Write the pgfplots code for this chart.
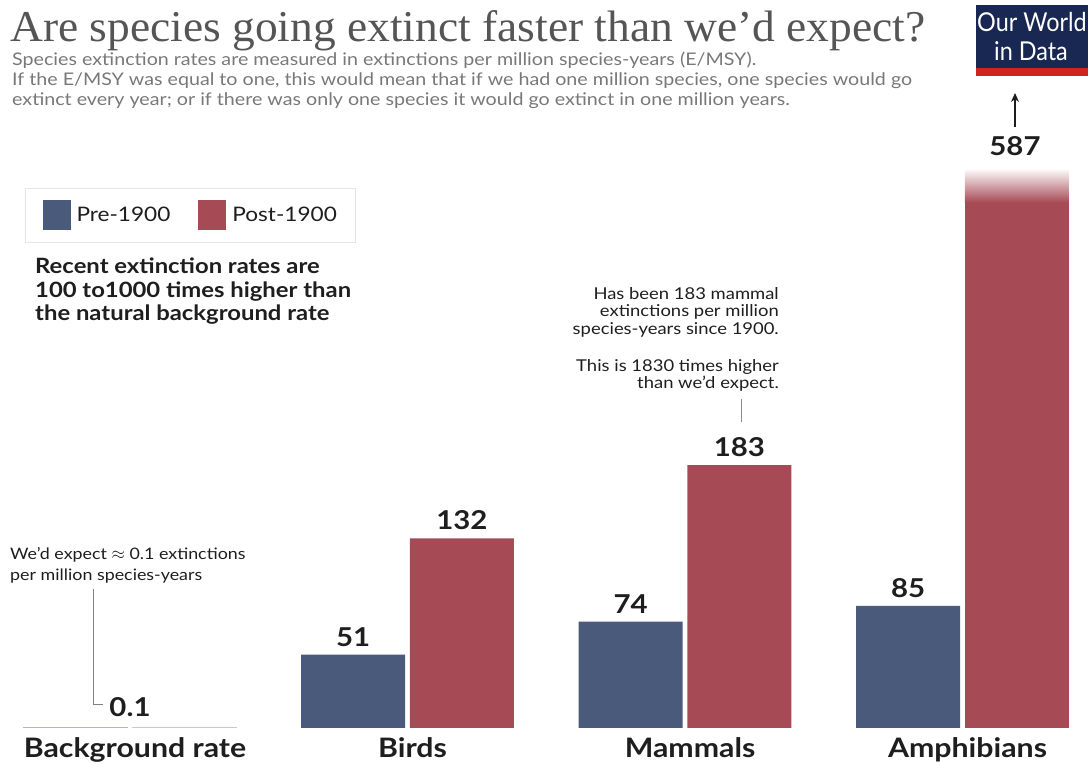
\documentclass[border=0pt]{standalone}
\usepackage{pgfplots}
\pgfplotsset{compat=1.18}
\usepackage{fontspec}
\usepackage{graphicx}
\usetikzlibrary{arrows.meta}
\setmainfont{Lato}[FakeStretch=1.13]
\newfontfamily\logofont{Lato}[FakeStretch=0.9]
\newfontfamily\titlefont{Liberation Serif}
\definecolor{pre}{RGB}{74,90,122}
\definecolor{post}{RGB}{166,74,86}
\definecolor{owidblue}{RGB}{24,40,82}
\definecolor{owidred}{RGB}{206,38,30}
\definecolor{subgray}{RGB}{120,120,120}
\definecolor{titlegray}{RGB}{85,85,85}
\definecolor{txt}{RGB}{30,30,30}
\begin{document}
\begin{tikzpicture}[x=1bp,y=1bp]
\draw[white, line width=0pt] (0,0) rectangle (1088,763);
% title
\node[anchor=base west, inner sep=0, text=titlegray] at (10,721) {\resizebox{915bp}{31bp}{\titlefont Are species going extinct faster than we’d expect?}};
\begin{scope}[every node/.style={anchor=base west, inner sep=0, text=subgray, font=\fontsize{17.4bp}{18bp}\selectfont}]
\node at (12,697) {Species extinction rates are measured in extinctions per million species-years (E/MSY).};
\node at (12,677) {If the E/MSY was equal to one, this would mean that if we had one million species, one species would go};
\node at (12,657) {extinct every year; or if there was only one species it would go extinct in one million years.};
\end{scope}
% logo
\fill[owidblue] (976,695) rectangle (1088,758);
\fill[owidred] (976,687) rectangle (1088,695);
\node[anchor=base west, inner sep=0, text=white, font=\logofont\fontsize{26bp}{26bp}\selectfont] at (977,731) {Our World};
\node[anchor=base, inner sep=0, text=white, font=\logofont\fontsize{26bp}{26bp}\selectfont] at (1031,702) {in Data};
% arrow + 587
\draw[-{Stealth[length=9bp,width=8bp]}, line width=1.4bp, txt] (1015,636) -- (1015,670);
\node[anchor=base, inner sep=0, text=txt, font=\bfseries\fontsize{26bp}{26bp}\selectfont] at (1015,607) {587};
% bold paragraph
\begin{scope}[every node/.style={anchor=base west, inner sep=0, text=txt, font=\bfseries\fontsize{21.1bp}{20bp}\selectfont}]
\node at (35,489) {Recent extinction rates are};
\node at (35,465) {100 to1000 times higher than};
\node at (35,442) {the natural background rate};
\end{scope}
% mammal annotation
\begin{scope}[every node/.style={anchor=base east, inner sep=0, text=txt, font=\fontsize{16.3bp}{16bp}\selectfont}]
\node at (779,463) {Has been 183 mammal};
\node at (779,446) {extinctions per million};
\node at (779,428) {species-years since 1900.};
\node at (779,391) {This is 1830 times higher};
\node at (779,374) {than we’d expect.};
\end{scope}
\draw[black!45, line width=1bp] (741,364) -- (741,341);
% background annotation
\begin{scope}[every node/.style={anchor=base west, inner sep=0, text=txt, font=\fontsize{15.8bp}{15bp}\selectfont}]
\node at (10,203) {We’d expect $\approx$ 0.1 extinctions};
\node at (10,182) {per million species-years};
\end{scope}
\draw[black!50, line width=1bp] (93,174) -- (93,58) -- (103,58);

\begin{axis}[
  at={(0,24.5)}, anchor=south west, scale only axis,
  width=1088bp, height=559bp,
  xmin=-0.4685, xmax=3.452, ymin=0, ymax=389.5,
  axis lines*=left, axis line style={draw=none},
  ytick=\empty, xtick={0,1,2,3},
  xticklabels={Background rate, Birds, Mammals, Amphibians},
  major tick length=0,
  xticklabel style={anchor=base, yshift=-30bp, xshift=5bp, inner sep=0, text=txt, font=\bfseries\fontsize{26.8bp}{26bp}\selectfont},
  bar width=0.375,
  /pgf/number format/assume math mode=true,
  every node near coord/.append style={anchor=base, yshift=8.5bp, inner sep=0, text=txt, font=\bfseries\fontsize{26bp}{26bp}\selectfont},
  legend style={at={(rel axis cs:0.023,0.966)}, anchor=north west, legend columns=2,
    draw=black!10, line width=1bp, inner xsep=17bp, inner ysep=12bp,
    font=\fontsize{20bp}{20bp}\selectfont, text=txt,
    /tikz/every odd column/.append style={column sep=4bp},
    /tikz/every even column/.append style={column sep=26bp}},
  sq/.style={legend image code/.code={\fill[##1] (0bp,-15bp) rectangle (28bp,15bp);}},
]
\addplot[ybar, bar shift=0pt, fill=pre, draw=none, sq, nodes near coords] coordinates {(0.804,51) (1.804,74) (2.804,85)};
\addlegendentry{Pre-1900}
\addplot[ybar, bar shift=0pt, fill=post, draw=none, sq, nodes near coords] coordinates {(1.196,132) (2.196,183)};
\addlegendentry{Post-1900}
\addplot[ybar, bar shift=0pt, fill=post, draw=none, forget plot] coordinates {(3.196,587)};
\addplot[ybar, bar shift=0pt, fill=pre!60, draw=pre!45, line width=1.5bp, forget plot] coordinates {(-0.196,0.1)};
\addplot[ybar, bar shift=0pt, fill=post!50, draw=post!35, line width=1.5bp, forget plot] coordinates {(0.196,0.1)};
\shade[top color=white, bottom color=post, draw=none] (axis cs:3.0085,366) rectangle (axis cs:3.3835,390);
\node[anchor=base, inner sep=0, text=txt, font=\bfseries\fontsize{26bp}{26bp}\selectfont, yshift=11bp] at (axis cs:0,0.1) {0.1};
\end{axis}
\pgfresetboundingbox
\path[use as bounding box] (0,0) rectangle (1088,763);
\end{tikzpicture}
\end{document}
